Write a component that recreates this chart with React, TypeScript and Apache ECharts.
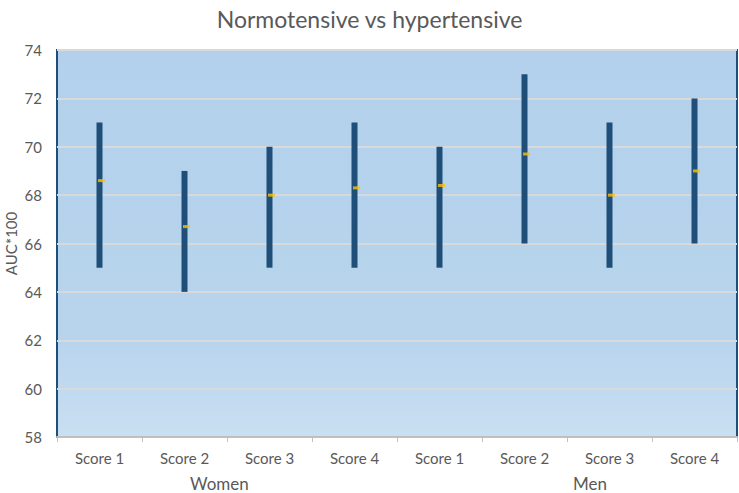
import React, { useEffect, useRef } from "react";
import * as echarts from "echarts";

const categories = ["Score 1", "Score 2", "Score 3", "Score 4", "Score 1", "Score 2", "Score 3", "Score 4"];
const groups = ["Women", "Men"];
const lowValues = [65, 64, 65, 65, 65, 66, 65, 66];
const highValues = [71, 69, 70, 71, 70, 73, 71, 72];
const meanValues = [68.6, 66.7, 68.0, 68.3, 68.4, 69.7, 68.0, 69.0];

export default function App() {
  const ref = useRef<HTMLDivElement>(null);
  useEffect(() => {
    if (!ref.current) return;
    const chart = echarts.init(ref.current, undefined, { renderer: "svg" });
    const font = "Lato";
    chart.setOption({
      animation: false,
      title: {
        text: "Normotensive vs hypertensive",
        left: "center",
        top: 2,
        textStyle: { fontFamily: font, fontSize: 23, fontWeight: "normal", color: "#595959" },
      },
      grid: {
        left: 57,
        right: 2,
        top: 50,
        bottom: 56,
        outerBoundsMode: "none",
        containLabel: false,
        show: true,
        borderColor: "#1f4e79",
        borderWidth: 2,
        backgroundColor: new echarts.graphic.LinearGradient(0, 0, 0, 1, [
          { offset: 0, color: "#b3d1ec" },
          { offset: 0.75, color: "#b8d4ed" },
          { offset: 1, color: "#c9dff2" },
        ]),
      },
      xAxis: {
        type: "category",
        data: categories,
        boundaryGap: true,
        axisLine: { lineStyle: { color: "#bfbfbf", width: 2 } },
        axisTick: { show: true, length: 5, lineStyle: { color: "#bfbfbf" } },
        axisLabel: { fontFamily: font, fontSize: 15, color: "#595959", margin: 13 },
      },
      yAxis: {
        type: "value",
        min: 58,
        max: 74,
        interval: 2,
        name: "AUC*100",
        nameLocation: "middle",
        nameGap: 39,
        nameMoveOverlap: false,
        nameTextStyle: { fontFamily: font, fontSize: 15, color: "#595959" },
        axisLine: { show: false },
        axisTick: { show: false },
        axisLabel: { fontFamily: font, fontSize: 15, color: "#595959", margin: 15 },
        splitLine: { lineStyle: { color: "#d9d9d9", width: 2 } },
      },
      graphic: [
        {
          type: "text",
          left: 190,
          top: 475,
          style: { text: groups[0], font: `17px ${font}`, fill: "#595959" },
        },
        {
          type: "text",
          left: 573,
          top: 475,
          style: { text: groups[1], font: `17px ${font}`, fill: "#595959" },
        },
      ],
      series: [
        {
          type: "custom",
          data: categories.map((_, i) => [i, lowValues[i], highValues[i]]),
          renderItem: (params: any, api: any) => {
            const x = api.value(0);
            const lo = api.coord([x, api.value(1)]);
            const hi = api.coord([x, api.value(2)]);
            return {
              type: "rect",
              shape: { x: lo[0] - 3, y: hi[1], width: 6, height: lo[1] - hi[1] },
              style: { fill: "#1f4e79" },
            };
          },
          z: 3,
        },
        {
          type: "scatter",
          data: categories.map((_, i) => [i, meanValues[i]]),
          symbol: "rect",
          symbolSize: [7, 3],
          symbolOffset: [2, 0],
          itemStyle: { color: "#ffc000" },
          z: 4,
        },
      ],
    });
    return () => chart.dispose();
  }, []);
  return <div ref={ref} style={{ width: 739, height: 493, position: "absolute", left: 0, top: 0 }} />;
}
